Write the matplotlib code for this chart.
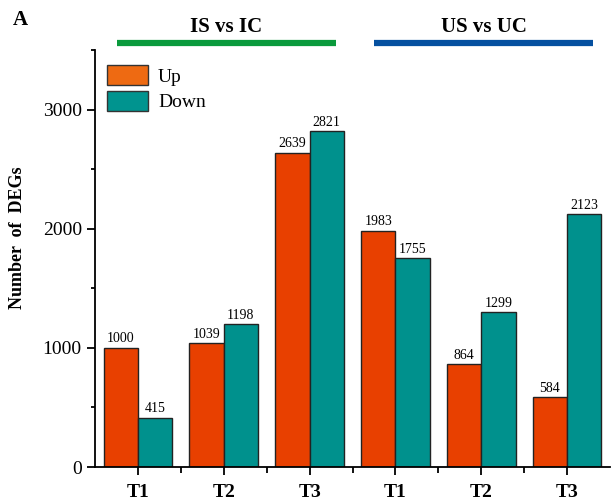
import matplotlib
matplotlib.use("Agg")
import matplotlib.pyplot as plt
from matplotlib.patches import Patch
from matplotlib.ticker import MultipleLocator, FixedLocator
import numpy as np

categories = ["T1", "T2", "T3", "T1", "T2", "T3"]
up_values = [1000, 1039, 2639, 1983, 864, 584]
down_values = [415, 1198, 2821, 1755, 1299, 2123]
group_titles = ["IS vs IC", "US vs UC"]

plt.rcParams['font.family'] = ['Liberation Serif', 'DejaVu Serif']
up_color = "#E84000"
down_color = "#00918D"

fig = plt.figure(figsize=(6.11, 5.01), dpi=100)
ax = fig.add_axes([95/611, 1-467/501, 515/611, (467-50)/501])

x = np.arange(len(categories))
w = 0.4
ax.bar(x - w/2, up_values, w, color=up_color, edgecolor="#222222", linewidth=1.0)
ax.bar(x + w/2, down_values, w, color=down_color, edgecolor="#222222", linewidth=1.0)
for xi, v in zip(x, up_values):
    ax.text(xi - w/2, v + 20, str(v), ha="center", va="bottom", fontsize=10)
for xi, v in zip(x, down_values):
    ax.text(xi + w/2, v + 20, str(v), ha="center", va="bottom", fontsize=10)

ax.set_xlim(-0.5, 5.5)
ax.set_ylim(0, 3500)
ax.set_xticks(x)
ax.set_xticklabels(categories, fontsize=14, fontweight="bold")
ax.xaxis.set_minor_locator(FixedLocator(np.arange(0.5, 5.0, 1.0)))
ax.set_yticks([0, 1000, 2000, 3000])
ax.yaxis.set_minor_locator(MultipleLocator(500))
ax.tick_params(axis="y", labelsize=14, width=1.3, length=6)
ax.tick_params(axis="y", which="minor", width=1.3, length=3)
ax.tick_params(axis="x", width=1.3, length=6, pad=6)
ax.tick_params(axis="x", which="minor", width=1.3, length=4)
for s in ["top", "right"]:
    ax.spines[s].set_visible(False)
for s in ["left", "bottom"]:
    ax.spines[s].set_linewidth(1.3)

handles = [Patch(facecolor="#EE6A12", edgecolor="#333333", label="Up"),
           Patch(facecolor="#00948F", edgecolor="#333333", label="Down")]
ax.legend(handles=handles, loc="upper left", bbox_to_anchor=(-0.01, 1.005), frameon=False,
          fontsize=14, handlelength=2.1, handleheight=1.2, handletextpad=0.5, labelspacing=0.25)

fig.text(18/611, 1-238/501, "Number  of  DEGs", rotation=90, ha="center", va="center",
         fontsize=13, fontweight="bold")
fig.text(20/611, 1-20/501, "A", ha="center", va="center", fontsize=15, fontweight="bold")

# group header lines and titles
for (x0, x1), col, title in zip([(117, 336), (374, 593)], ["#0A9A3C", "#0550A0"], group_titles):
    fig.add_artist(plt.Line2D([x0/611, x1/611], [1-43/501, 1-43/501], color=col, linewidth=4.5,
                              transform=fig.transFigure, solid_capstyle="butt"))
    fig.text((x0+x1)/2/611, 1-27/501, title, ha="center", va="center", fontsize=15, fontweight="bold")

fig.savefig("out.png", dpi=100)
